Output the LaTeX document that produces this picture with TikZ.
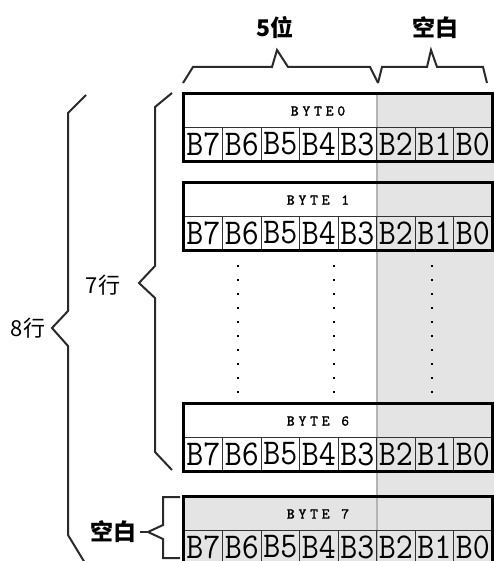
\documentclass[tikz,border=0pt]{standalone}
\usepackage{fontspec}
\newfontfamily\cjk{Noto Sans CJK SC}
\newfontfamily\hdfont{lmmono10-regular.otf}[LetterSpace=25, FakeBold=1.5]
\definecolor{pale}{HTML}{E4E4E4}
\definecolor{edge}{HTML}{B4B4B4}
\definecolor{brc}{HTML}{2A2A2A}
\newcommand{\tall}[1]{\scalebox{1}[1.1]{#1}}

\begin{document}
\begin{tikzpicture}[x=1pt,y=-1pt]
  \tikzset{hdr/.style={draw=black!80, line width=0.8pt, minimum width=308pt, minimum height=33pt, inner sep=0},
           bit/.style={draw=black!80, line width=0.8pt, minimum width=38.5pt, minimum height=34pt, inner sep=0, font=\fontsize{33}{33}\selectfont\ttfamily},
           outer/.style={line width=2.4pt, black},
           brace/.style={line width=2pt, brc, line join=miter},
           tag/.style={font=\fontsize{22}{22}\selectfont\cjk},
           tagb/.style={font=\fontsize{23}{23}\selectfont\cjk\bfseries}}

\useasboundingbox (0,0) rectangle (494,561);
% blank columns
\fill[pale] (377,94) rectangle (494,561);
\fill[pale] (184,497) rectangle (492,563);
\draw[edge, line width=2pt] (377,94) -- (377,561);

% byte rows
\foreach \r/\y/\lab in {0/94/BYTE0, 1/183/BYTE 1, 6/404/BYTE 6, 7/497/BYTE 7} {
  \node[hdr] (h\r) at (338,\y+16.5) {};
  \node[font=\fontsize{15}{15}\selectfont\hdfont] (t\r) at (318,\y+17) {\lab};
  \foreach \b [count=\i from 0] in {7,...,0}
    \node[bit] (b\r\b) at (203.25+38.5*\i,\y+50) {\tall{B\b}};
  \draw[outer] (h\r.north west) rectangle (b\r0.south east);
}

% dots
\foreach \x in {238,334,432}
  \foreach \y in {266,280,...,392}
    \fill (\x-1.4,\y-1.4) rectangle ++(2.8,2.8);

% braces
\draw[brace] (183,83) -- (193,67) -- (272,67) -- (277,50) -- (288,67) -- (370,67) -- (378,83);
\draw[brace] (378,83) -- (382,67) -- (427,67) -- (431,50) -- (437,67) -- (483,67) -- (487,83);
\node[tagb] (w5) at (275,28) {5位};
\node[tagb] (wb) at (435,28) {空白};

\draw[brace] (172,93) -- (155,107) -- (155,266) -- (139,283) -- (155,298) -- (155,452) -- (172,470);
\node[tag] (r7) at (103,285) {7行};
\draw[brace] (86,95) -- (68,113) -- (68,311) -- (52,328) -- (68,346) -- (68,535) -- (85,563);
\node[tag] (r8) at (28,328) {8行};

\draw[brace] (180,497) -- (163,497) -- (163,525) -- (148,532) -- (163,539) -- (163,558) -- (180,558);
\coordinate (tip) at (148,532);
\node[tagb] (w0) at (113,532) {空白};
\draw[brace] (tip) -- (w0);
\end{tikzpicture}
\end{document}
